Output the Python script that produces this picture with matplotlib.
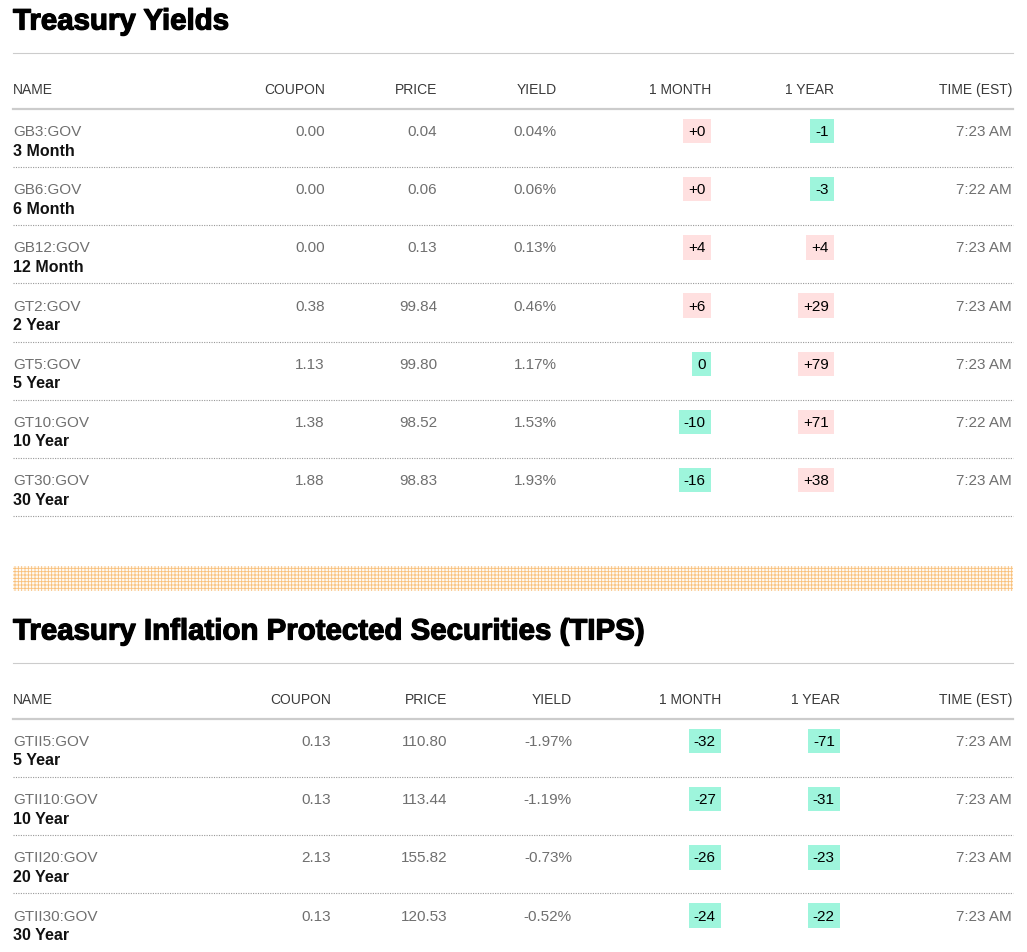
import matplotlib.pyplot as plt
import matplotlib.patheffects as pe
from matplotlib.patches import Rectangle

plt.rcParams['font.family'] = ['Liberation Sans', 'DejaVu Sans']
plt.rcParams['hatch.linewidth'] = 0.6

# --- data -------------------------------------------------------------
headers = ["NAME", "COUPON", "PRICE", "YIELD", "1 MONTH", "1 YEAR", "TIME (EST)"]

ty_codes = ["GB3:GOV", "GB6:GOV", "GB12:GOV", "GT2:GOV", "GT5:GOV", "GT10:GOV", "GT30:GOV"]
ty_names = ["3 Month", "6 Month", "12 Month", "2 Year", "5 Year", "10 Year", "30 Year"]
ty_coupon = ["0.00", "0.00", "0.00", "0.38", "1.13", "1.38", "1.88"]
ty_price = ["0.04", "0.06", "0.13", "99.84", "99.80", "98.52", "98.83"]
ty_yield = ["0.04%", "0.06%", "0.13%", "0.46%", "1.17%", "1.53%", "1.93%"]
ty_month = ["+0", "+0", "+4", "+6", "0", "-10", "-16"]
ty_year = ["-1", "-3", "+4", "+29", "+79", "+71", "+38"]
ty_time = ["7:23 AM", "7:22 AM", "7:23 AM", "7:23 AM", "7:23 AM", "7:22 AM", "7:23 AM"]

tips_codes = ["GTII5:GOV", "GTII10:GOV", "GTII20:GOV", "GTII30:GOV"]
tips_names = ["5 Year", "10 Year", "20 Year", "30 Year"]
tips_coupon = ["0.13", "0.13", "2.13", "0.13"]
tips_price = ["110.80", "113.44", "155.82", "120.53"]
tips_yield = ["-1.97%", "-1.19%", "-0.73%", "-0.52%"]
tips_month = ["-32", "-27", "-26", "-24"]
tips_year = ["-71", "-31", "-23", "-22"]
tips_time = ["7:23 AM", "7:23 AM", "7:23 AM", "7:23 AM"]

UP = "#ffe0e0"
DOWN = "#9ef5dc"
GRAY = "#6f6f6f"


def draw_table(ax, top, title, col_right, codes, names, coupon, price, yld,
               month, year, times, last_line=True):
    """Draw one quote table, with <top> the pixel offset of its title."""
    left, right = 13, 1013
    ax.text(left, top + 22.5, title, fontsize=21.2, fontweight='bold',
            color='black', va='center', ha='left',
            path_effects=[pe.withStroke(linewidth=0.9, foreground='black')])
    ax.plot([left, right], [top + 54, top + 54], color='#cccccc', lw=0.8)

    # header row
    ax.text(left, top + 90, headers[0], fontsize=10, color='#3a3a3a', va='center')
    for h, x in zip(headers[1:], col_right):
        ax.text(x, top + 90, h, fontsize=10, color='#3a3a3a', va='center', ha='right')
    ax.plot([left, right], [top + 110, top + 110], color='#cccccc', lw=1.6)

    step = 58.2
    for i in range(len(codes)):
        y = top + 132 + i * step
        ax.text(left, y, codes[i], fontsize=11, color=GRAY, va='center')
        ax.text(left, y + 19, names[i], fontsize=11.5, fontweight='bold',
                color='#111111', va='center')
        for val, x in zip([coupon[i], price[i], yld[i]], col_right[:3]):
            ax.text(x, y, val, fontsize=11, color=GRAY, va='center', ha='right')
        for val, x in zip([month[i], year[i]], col_right[3:5]):
            fc = UP if val.startswith('+') else DOWN
            ax.text(x - 5.2, y, val, fontsize=11, color='black', va='center',
                    ha='right',
                    bbox=dict(boxstyle='square,pad=0.34', fc=fc, ec='none'))
        ax.text(col_right[5], y, times[i], fontsize=11, color=GRAY,
                va='center', ha='right')
        if last_line or i < len(codes) - 1:
            ly = top + 168 + i * step
            ax.plot([left, right], [ly, ly], color='#999999', lw=0.8,
                    linestyle=(0, (1, 1.2)))


fig = plt.figure(figsize=(10.27, 9.53), dpi=100)
ax = fig.add_axes([0, 0, 1, 1])
ax.set_xlim(0, 1027)
ax.set_ylim(953, 0)
ax.axis('off')

draw_table(ax, 0, "Treasury Yields", [325, 437, 557, 711, 834, 1012],
           ty_codes, ty_names, ty_coupon, ty_price, ty_yield,
           ty_month, ty_year, ty_time)

# orange dotted band between the two tables
ax.add_patch(Rectangle((13, 567), 1000, 25, facecolor='#fffaf4',
                       edgecolor='#f9c07a', hatch='+++++', lw=0))

draw_table(ax, 610, "Treasury Inflation Protected Securities (TIPS)",
           [331, 447, 572, 721, 840, 1012],
           tips_codes, tips_names, tips_coupon, tips_price, tips_yield,
           tips_month, tips_year, tips_time, last_line=False)

fig.savefig("out.png", dpi=100)
